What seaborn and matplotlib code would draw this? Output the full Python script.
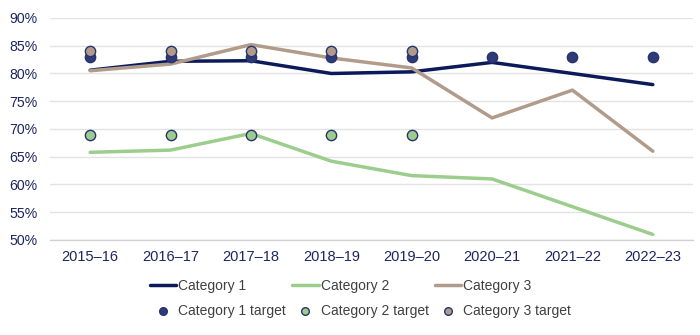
import numpy as np
import pandas as pd
import matplotlib
matplotlib.use("Agg")
import matplotlib.pyplot as plt
import seaborn as sns
from matplotlib.lines import Line2D

years = ["2015–16", "2016–17", "2017–18", "2018–19", "2019–20", "2020–21", "2021–22", "2022–23"]
cat1 = [80.6, 82.2, 82.3, 80.0, 80.3, 82.0, 80.0, 78.0]
cat2 = [65.8, 66.2, 69.2, 64.2, 61.6, 61.0, 56.0, 51.0]
cat3 = [80.5, 81.7, 85.2, 82.8, 81.0, 72.0, 77.0, 66.0]
cat1_target = [83, 83, 83, 83, 83, 83, 83, 83]
cat2_target = [69, 69, 69, 69, 69, np.nan, np.nan, np.nan]
cat3_target = [84, 84, 84, 84, 84, np.nan, np.nan, np.nan]
yticks = [50, 55, 60, 65, 70, 75, 80, 85, 90]

sns.set_theme(style="white")
plt.rcParams['font.family'] = ['Liberation Sans', 'DejaVu Sans']

c1, c2, c3 = "#0c1a5b", "#9dcd8c", "#b19b8b"
c1t = "#2f3a78"
edge = "#27336e"

fig = plt.figure(figsize=(7, 3.35), dpi=100)
ax = fig.add_axes([50/700, 1-240/335, (693-50)/700, (240-18)/335])

x = np.arange(len(years))
df = pd.DataFrame({"x": x, "c1": cat1, "c2": cat2, "c3": cat3,
                   "t1": cat1_target, "t2": cat2_target, "t3": cat3_target})

sns.lineplot(data=df, x="x", y="c1", ax=ax, color=c1, lw=2.5, zorder=3)
sns.lineplot(data=df, x="x", y="c2", ax=ax, color=c2, lw=2.5, zorder=3)
sns.lineplot(data=df, x="x", y="c3", ax=ax, color=c3, lw=2.5, zorder=3)
sns.scatterplot(data=df, x="x", y="t1", ax=ax, color=c1t, edgecolor=edge, linewidth=1, s=55, zorder=4)
sns.scatterplot(data=df, x="x", y="t3", ax=ax, color=c3, edgecolor=edge, linewidth=1, s=55, zorder=5)
sns.scatterplot(data=df, x="x", y="t2", ax=ax, color=c2, edgecolor=edge, linewidth=1, s=55, zorder=4)

ax.set_xlim(-0.5, len(years) - 0.5)
ax.set_ylim(50, 90)
ax.set_xticks(x)
ax.set_xticklabels(years)
ax.set_yticks(yticks)
ax.set_yticklabels([f"{v}%" for v in yticks])
ax.set_xlabel("")
ax.set_ylabel("")
ax.yaxis.grid(True, color="#e3e3e3", lw=1)
ax.set_axisbelow(True)
for s in ["top", "right", "left"]:
    ax.spines[s].set_visible(False)
ax.spines["bottom"].set_color("#d0d0d0")
ax.spines["bottom"].set_linewidth(1)
ax.tick_params(axis="x", length=0, labelsize=10.5, colors="#1c2660", pad=7)
ax.tick_params(axis="y", length=0, labelsize=10.2, colors="#1c2660", pad=9)

handles = [
    Line2D([], [], color=c1, lw=2.5),
    Line2D([], [], marker="o", ls="", markerfacecolor=c1t, markeredgecolor=edge, markersize=5.5),
    Line2D([], [], color=c2, lw=2.5),
    Line2D([], [], marker="o", ls="", markerfacecolor=c2, markeredgecolor=edge, markersize=5.5),
    Line2D([], [], color=c3, lw=2.5),
    Line2D([], [], marker="o", ls="", markerfacecolor=c3, markeredgecolor=edge, markersize=5.5),
]
labels = ["Category 1", "Category 1 target", "Category 2", "Category 2 target",
          "Category 3", "Category 3 target"]
fig.legend(handles, labels, ncol=3, loc="center", bbox_to_anchor=(0.515, 1-298.5/335),
           frameon=False, fontsize=10, handlelength=1.9, handletextpad=0.15,
           columnspacing=0.45, labelspacing=0.85, labelcolor="#404040")

fig.savefig("out.png", dpi=100)
